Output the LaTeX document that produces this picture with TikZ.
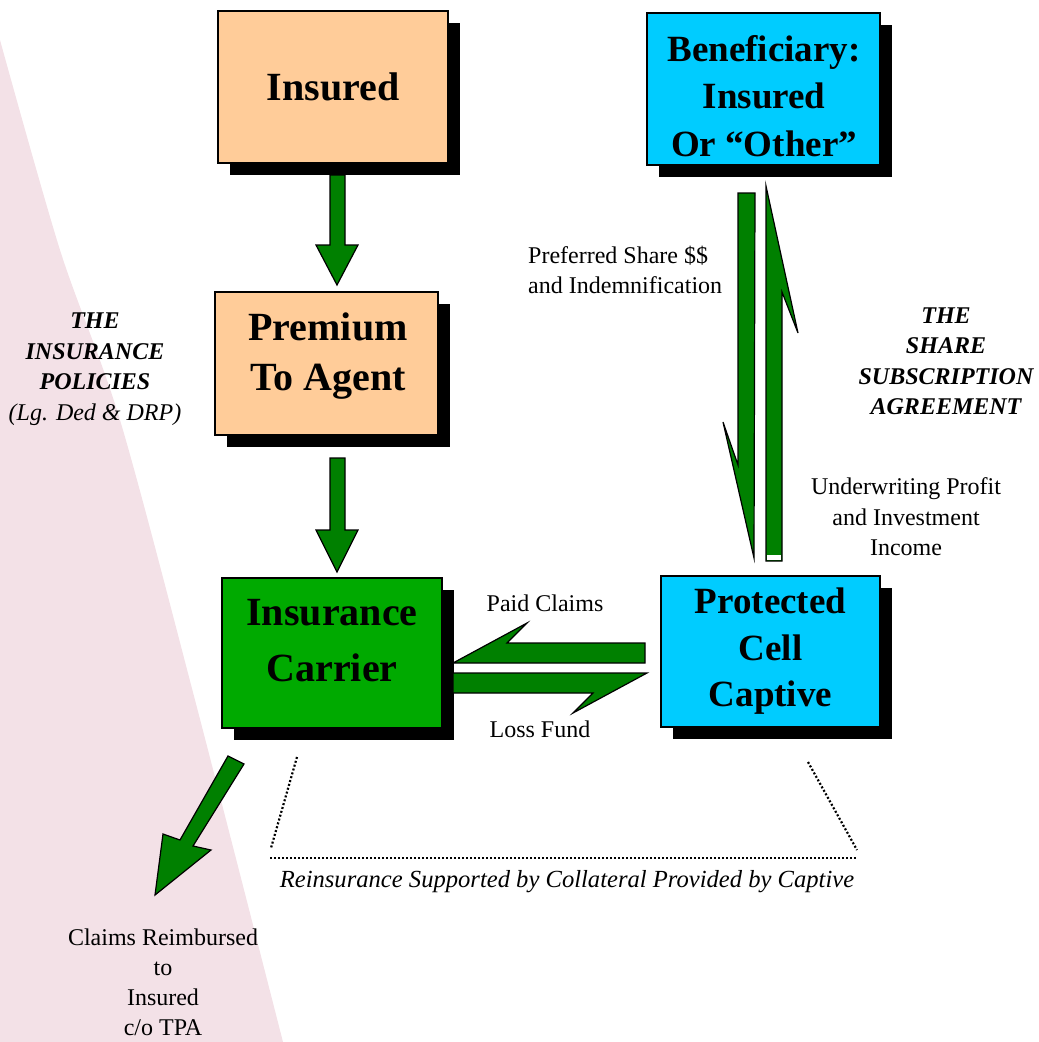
\documentclass[tikz,border=0pt]{standalone}
\usepackage{fontspec}
\setmainfont{Liberation Serif}
\usetikzlibrary{shadows,calc}
\definecolor{peach}{RGB}{255,204,153}
\definecolor{cyanbox}{RGB}{0,204,255}
\definecolor{boxgreen}{RGB}{0,170,0}
\definecolor{arrgreen}{RGB}{0,128,0}
\definecolor{pinkbg}{RGB}{243,225,231}
\begin{document}
\begin{tikzpicture}[x=1pt,y=-1pt,
  box/.style={draw=black, line width=1.3pt, inner sep=0pt,
    drop shadow={shadow xshift=12pt, shadow yshift=-12pt, fill=black, opacity=1}},
  bigtxt/.style={font=\fontsize{40}{#1}\selectfont\bfseries, align=center, inner sep=0pt},
  medtxt/.style={font=\fontsize{37}{#1}\selectfont\bfseries, align=center, inner sep=0pt},
  smalltxt/.style={font=\fontsize{24}{30.5}\selectfont, inner sep=0pt},
  blockarrow/.style={fill=arrgreen, draw=black, line width=1.2pt, line join=miter},
  dotline/.style={line width=2.2pt, dash pattern=on 2pt off 2pt}]
\useasboundingbox (0,0) rectangle (1039,1042);
% pink background
\fill[pinkbg] (0,40) plot[smooth] coordinates {(0,40) (60,250) (120,420) (195,700) (283,1042)} -- (0,1042) -- cycle;

% boxes
\node[box, fill=peach, minimum width=230pt, minimum height=152pt] (ins) at (333,87) {};
\node[box, fill=peach, minimum width=223pt, minimum height=143pt] (prem) at (326.5,363.5) {};
\node[box, fill=boxgreen, minimum width=220pt, minimum height=150pt] (carr) at (332,653) {};
\node[box, fill=cyanbox, minimum width=233pt, minimum height=152pt] (ben) at (763.5,89) {};
\node[box, fill=cyanbox, minimum width=219pt, minimum height=151pt] (cap) at (770.5,651.5) {};

\node[bigtxt=48] (ins-t) at (ins.center) {Insured};
\node[bigtxt=50] (prem-t) at ($(prem.center)+(1.5,-7.5)$) {Premium\\To Agent};
\node[bigtxt=56] (carr-t) at ($(carr.center)+(0,-12)$) {Insurance\\Carrier};
\node[medtxt=47.5] (ben-t) at ($(ben.center)+(0.5,7)$) {Beneficiary:\\Insured\\Or “Other”};
\node[medtxt=46.5] (cap-t) at ($(cap.center)+(0,0)$) {Protected\\Cell\\Captive};

% block arrows
\draw[blockarrow] (330,175) -- (345,175) -- (345,245) -- (358,245) -- (337,285) -- (316,245) -- (330,245) -- cycle;
\draw[blockarrow] (330,458) -- (345,458) -- (345,530) -- (358,530) -- (337,572) -- (316,530) -- (330,530) -- cycle;
\draw[blockarrow] (228,756) -- (244,764) -- (193,846) -- (211,850) -- (155,895) -- (163,834) -- (180,840) -- cycle;
\draw[blockarrow] (645,643) -- (507,643) -- (527,623) -- (453,663) -- (645,663) -- cycle;
\draw[blockarrow] (453,673) -- (647,673) -- (573,713) -- (593,693) -- (453,693) -- cycle;
\draw[blockarrow] (738,193) -- (755,193) -- (754,558) -- (723,422) -- (738,465) -- cycle;
\draw[blockarrow] (766,561) -- (766,186) -- (798,333) -- (782,292) -- (782,561) -- cycle;
\fill[white] (767.2,555) rectangle (780.8,560);

% dotted bracket
\coordinate (dl1) at (297,757);
\coordinate (dl2) at (271,848);
\coordinate (dh1) at (270,858);
\coordinate (dh2) at (857,858);
\coordinate (dr1) at (808,762);
\coordinate (dr2) at (857,850);
\draw[dotline] (dl1) -- (dl2);
\draw[dotline] (dh1) -- (dh2);
\draw[dotline] (dr1) -- (dr2);

% labels
\node[smalltxt] (paid) at (545,603) {Paid Claims};
\node[smalltxt] (loss) at (540,729) {Loss Fund};
\node[smalltxt, align=left, anchor=west] (pref) at (528,270) {Preferred Share \$\$\\and Indemnification};
\node[smalltxt, align=center, font=\fontsize{24}{30.5}\selectfont\bfseries\itshape] (ssa) at (946,361.5) {THE\\SHARE\\SUBSCRIPTION\\AGREEMENT};
\node[smalltxt, align=center] (uw) at (906,517) {Underwriting Profit\\and Investment\\Income};
\node[smalltxt, align=center] (pol) at (95,369) {\bfseries\itshape THE\\\bfseries\itshape INSURANCE\\\bfseries\itshape POLICIES\\\itshape (Lg. Ded \& DRP)};
\node[smalltxt, align=center, font=\fontsize{24}{30}\selectfont] (crt) at (163,982) {Claims Reimbursed\\to\\Insured\\c/o TPA};
\node[smalltxt, font=\fontsize{24.6}{30.5}\selectfont\itshape] (reins) at (567,882) {Reinsurance Supported by Collateral Provided by Captive};
\end{tikzpicture}
\end{document}
